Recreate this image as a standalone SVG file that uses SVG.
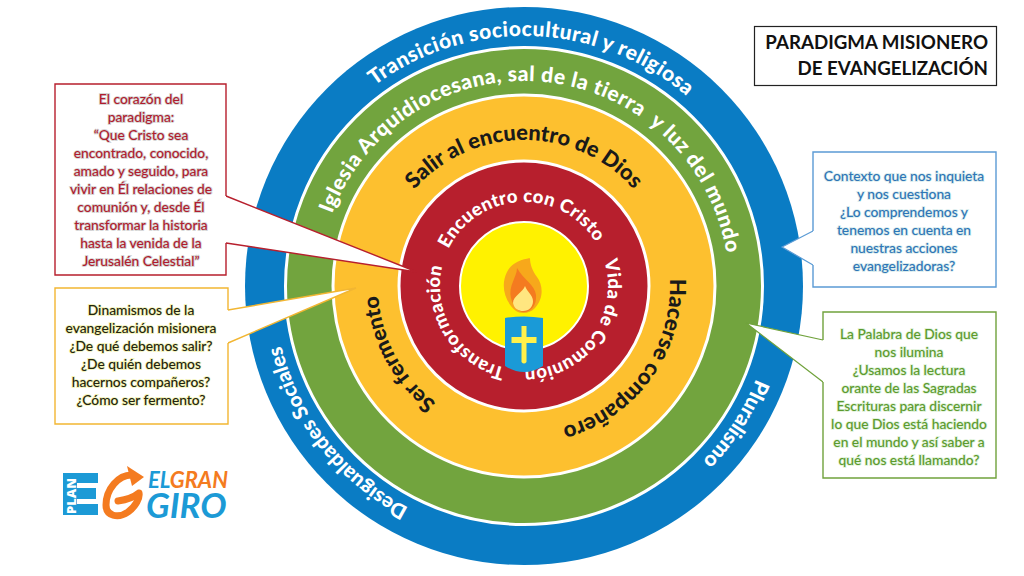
<svg xmlns="http://www.w3.org/2000/svg" width="1024" height="576" viewBox="0 0 1024 576">
<style>
.ring{stroke:#fff;stroke-width:3}
.arc{font-family:Lato,"Noto Sans",sans-serif;font-weight:900;text-anchor:middle;white-space:pre}
.w{fill:#fff}.k{fill:#1a1a1a}
.co{font-family:Lato,"Noto Sans",sans-serif;font-size:13.8px;text-anchor:middle;font-weight:500;paint-order:stroke;stroke-width:1.8px;stroke-opacity:.35}
.box{fill:#fff;stroke-width:1.4}
</style>
<defs>
<path id="r250" d="M524 536A250 250 0 1 1 524 36A250 250 0 1 1 524 536"/>
<path id="r205" d="M524 491A205 205 0 1 1 524 81A205 205 0 1 1 524 491"/>
<path id="r146" d="M524 432A146 146 0 1 1 524 140A146 146 0 1 1 524 432"/>
<path id="r84" d="M524 370A84 84 0 1 1 524 202A84 84 0 1 1 524 370"/>
</defs>
<rect width="1024" height="576" fill="#fff"/>
<g id="ring-contexto">
<circle cx="524" cy="286" r="279" fill="#0a7cc4"/>
<text class="arc w" font-size="21" letter-spacing=".5"><textPath href="#r250" startOffset="50.55%">Transición sociocultural y religiosa</textPath></text>
<text class="arc w" font-size="20.500"><textPath href="#r250" startOffset="14.4%">Desigualdades Sociales</textPath></text>
<text class="arc w" font-size="21"><textPath href="#r250" startOffset="84.2%">Pluralismo</textPath></text>
</g>
<g id="ring-iglesia">
<circle class="ring" cx="524" cy="286" r="238.500" fill="#72a43e"/>
<text class="arc w" font-size="21" letter-spacing=".55"><textPath href="#r205" startOffset="51.6%">Iglesia Arquidiocesana, sal de la tierra  y luz del mundo</textPath></text>
</g>
<g id="ring-dinamismos">
<circle class="ring" cx="524" cy="286" r="191" fill="#fdc02f"/>
<text class="arc k" font-size="21.800"><textPath href="#r146" startOffset="50%">Salir al encuentro de Dios</textPath></text>
<text class="arc k" font-size="22.200"><textPath href="#r146" startOffset="85%">Hacerse compañero</textPath></text>
<text class="arc k" font-size="21.500"><textPath href="#r146" startOffset="17.1%">Ser fermento</textPath></text>
</g>
<g id="ring-corazon">
<circle class="ring" cx="524" cy="286" r="125" fill="#b71f2d"/>
<text class="arc w" font-size="18.500" letter-spacing=".3"><textPath href="#r84" startOffset="49.3%">Encuentro con Cristo</textPath></text>
<text class="arc w" font-size="18.500" letter-spacing=".3"><textPath href="#r84" startOffset="85%">Vida de Comunión</textPath></text>
<text class="arc w" font-size="18.500" letter-spacing=".3"><textPath href="#r84" startOffset="16.2%">Transformación</textPath></text>
</g>
<g id="candle">
<circle cx="524" cy="286" r="64" fill="#fff200" stroke="#fff" stroke-width="2"/>
<path d="M530 258C528 259 514 259 507 272C500 286 505 302 516 311C520 314 530 314 535 308C544 298 543 285 537 277C532 270 530 264 530 258Z" fill="#f7a81b"/>
<path d="M517 268C517 277 508 286 511 298C513 306 518 312 524 312C531 312 537 305 536 295C535 285 524 280 517 268Z" fill="#f47b20"/>
<path d="M525 286C523 292 513 296 513 303C514 309 519 311 523 311C529 311 533 307 533 301C533 295 527 292 525 286Z" fill="#ffe680"/>
<path d="M505 318Q524 315 543 318V366Q524 378 505 366Z" fill="#1a9ad7"/>
<path d="M521.500 326h5v11h10v6h-10v19q-2.500 3-5 0v-19h-10v-6h10Z" fill="#fff14a"/>
</g>
<g id="connectors">
<path d="M226 196L417 272L226 243" fill="#fff" stroke="#b71f2d" stroke-width="1.4"/>
<path d="M228 310L356 288L228 343" fill="#fff" stroke="#f2b632" stroke-width="1.4"/>
<path d="M813 231L782 247L813 265" fill="#fff" stroke="#5b9bd5" stroke-width="1.2"/>
<path d="M823 340L746 323L823 382" fill="#fff" stroke="#70a23c" stroke-width="1.2"/>
</g>
<g id="callout-corazon">
<path class="box" stroke="#b71f2d" d="M226 196V84H55V275H226V243"/>
<g class="co" fill="#b01c2e" stroke="#888">
<text x="141" y="104">El corazón del</text>
<text x="141" y="122">paradigma:</text>
<text x="141" y="140">“Que Cristo sea</text>
<text x="141" y="158">encontrado, conocido,</text>
<text x="141" y="176">amado y seguido, para</text>
<text x="141" y="194">vivir en Él relaciones de</text>
<text x="141" y="212">comunión y, desde Él</text>
<text x="141" y="230">transformar la historia</text>
<text x="141" y="248">hasta la venida de la</text>
<text x="141" y="266">Jerusalén Celestial”</text>
</g>
</g>
<g id="callout-dinamismos">
<path class="box" stroke="#f2b632" d="M228 310V288H55V424H228V343"/>
<g class="co" fill="#23230f" stroke="#dddd30">
<text x="141" y="315">Dinamismos de la</text>
<text x="141" y="333">evangelización misionera</text>
<text x="141" y="351">¿De qué debemos salir?</text>
<text x="141" y="369">¿De quién debemos</text>
<text x="141" y="387">hacernos compañeros?</text>
<text x="141" y="405">¿Cómo ser fermento?</text>
</g>
</g>
<g id="callout-contexto">
<path class="box" stroke="#5b9bd5" stroke-width="1.2" d="M813 231V152H996V287H813V265"/>
<g class="co" fill="#2e75b6" font-weight="700" stroke="#9cc">
<text x="904" y="181">Contexto que nos inquieta</text>
<text x="904" y="199">y nos cuestiona</text>
<text x="904" y="217">¿Lo comprendemos y</text>
<text x="904" y="235">tenemos en cuenta en</text>
<text x="904" y="253">nuestras acciones</text>
<text x="904" y="271">evangelizadoras?</text>
</g>
</g>
<g id="callout-palabra">
<path class="box" stroke="#70a23c" d="M823 340V312H996V478H823V382"/>
<g class="co" fill="#5c9a2e" stroke="#ad9">
<text x="909" y="339">La Palabra de Dios que</text>
<text x="909" y="357">nos ilumina</text>
<text x="909" y="375">¿Usamos la lectura</text>
<text x="909" y="393">orante de las Sagradas</text>
<text x="909" y="411">Escrituras para discernir</text>
<text x="909" y="429">lo que Dios está haciendo</text>
<text x="909" y="447">en el mundo y así saber a</text>
<text x="909" y="465">qué nos está llamando?</text>
</g>
</g>
<g id="title">
<rect x="754.500" y="26.500" width="242" height="59" fill="#fff" stroke="#222" stroke-width="1.2"/>
<g font-family="Lato,'Noto Sans',sans-serif" font-size="18.700" font-weight="700" fill="#111" text-anchor="end">
<text x="988" y="49">PARADIGMA MISIONERO</text>
<text x="988" y="75">DE EVANGELIZACIÓN</text>
</g>
</g>
<g id="logo">
<path d="M63 473H98V483H77V488H96V499H77V504H98V515H63Z" fill="#1c9ad6"/>
<text transform="translate(75.500 514) rotate(-90)" font-family="'Open Sans',sans-serif" font-size="13" font-weight="800" fill="#fff">PLAN</text>
<path d="M133 475C118 474 106 490 106 505C106 516 118 519 128 512C136 506 140 498 139 493C133 498 125 500 118 501" fill="none" stroke="#f47b20" stroke-width="7" stroke-linecap="round" stroke-linejoin="round"/>
<path d="M127 466L144 477L132 486Z" fill="#f47b20"/>
<text x="148" y="488" font-family="Lato,sans-serif" font-size="22" font-style="italic" font-weight="700"><tspan fill="#1c9ad6">EL</tspan><tspan fill="#f47b20">GRAN</tspan></text>
<text x="146" y="518" font-family="Lato,sans-serif" font-size="35" font-style="italic" font-weight="700" fill="#1c9ad6">GIRO</text>
</g>
</svg>
